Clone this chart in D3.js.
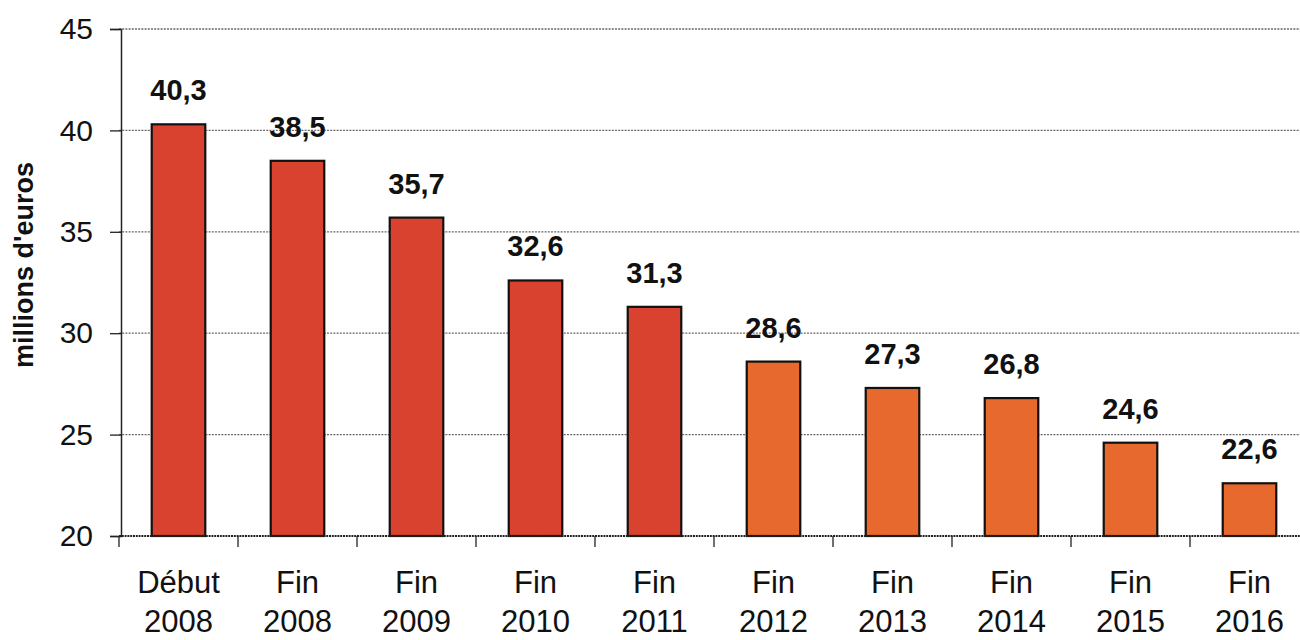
<!DOCTYPE html>
<html>
<head>
<meta charset="utf-8">
<script src="https://cdn.jsdelivr.net/npm/d3@7"></script>
<style>
  html, body { margin: 0; padding: 0; background: #fff; }
  svg { display: block; font-family: "Liberation Sans", Arial, sans-serif; }
</style>
</head>
<body>
<svg id="chart" width="1300" height="640"></svg>
<script>
// Période (deux lignes : libellé et année)
const periodLabels = ["Début", "Fin", "Fin", "Fin", "Fin", "Fin", "Fin", "Fin", "Fin", "Fin"];
const years = ["2008", "2008", "2009", "2010", "2011", "2012", "2013", "2014", "2015", "2016"];
// Montants en millions d'euros
const values = [40.3, 38.5, 35.7, 32.6, 31.3, 28.6, 27.3, 26.8, 24.6, 22.6];
// Réalisé (rouge) puis prévision (orange)
const kinds = ["r", "r", "r", "r", "r", "p", "p", "p", "p", "p"];
const yTicks = [20, 25, 30, 35, 40, 45];

const svg = d3.select("#chart");
const plotLeft = 119, plotRight = 1309, plotTop = 29, plotBottom = 536;

const x = d3.scaleBand()
  .domain(d3.range(values.length))
  .range([plotLeft, plotRight])
  .paddingInner(0.55)
  .paddingOuter(0.275);

const y = d3.scaleLinear().domain([20, 45]).range([plotBottom, plotTop]);

const fill = { r: "#d9422e", p: "#e8692d" };

// Quadrillage horizontal pointillé
svg.append("g")
  .selectAll("line")
  .data(yTicks.slice(1))
  .join("line")
  .attr("x1", plotLeft).attr("x2", 1300)
  .attr("y1", d => y(d)).attr("y2", d => y(d))
  .attr("stroke", "#6a6a6a")
  .attr("stroke-width", 1.3)
  .attr("stroke-dasharray", "2,1.2");

// Axe des ordonnées
const yAxis = d3.axisLeft(y).tickValues(yTicks).tickSize(11).tickPadding(17)
  .tickFormat(d3.format("d"));
const gy = svg.append("g").attr("transform", `translate(${plotLeft + 2},0)`).call(yAxis);
gy.select(".domain").attr("stroke", "#222").attr("stroke-width", 1.5);
gy.selectAll(".tick line").attr("stroke", "#222").attr("stroke-width", 1.3);
gy.selectAll(".tick text")
  .attr("font-size", 30).attr("fill", "#111")
  .attr("font-family", "'Liberation Sans', Arial, sans-serif");

// Barres
svg.append("g")
  .selectAll("rect")
  .data(values)
  .join("rect")
  .attr("x", (d, i) => x(i))
  .attr("width", x.bandwidth())
  .attr("y", d => y(d))
  .attr("height", d => y(20) - y(d))
  .attr("fill", (d, i) => fill[kinds[i]])
  .attr("stroke", "#111")
  .attr("stroke-width", 2.2);

// Axe des abscisses
const step = x.step();
const xTickPos = d3.range(values.length + 1).map(i => plotLeft + i * step);
svg.append("line")
  .attr("x1", plotLeft).attr("x2", 1300)
  .attr("y1", plotBottom).attr("y2", plotBottom)
  .attr("stroke", "#222").attr("stroke-width", 1.8)
  .attr("stroke-dasharray", "2,0.8");
svg.append("g")
  .selectAll("line")
  .data(xTickPos)
  .join("line")
  .attr("x1", d => d).attr("x2", d => d)
  .attr("y1", plotBottom).attr("y2", plotBottom + 11)
  .attr("stroke", "#222").attr("stroke-width", 1.3);

// Libellés des catégories
const xl = svg.append("g")
  .selectAll("text")
  .data(values)
  .join("text")
  .attr("text-anchor", "middle")
  .attr("font-size", 31)
  .attr("fill", "#111");
xl.append("tspan")
  .attr("x", (d, i) => x(i) + x.bandwidth() / 2)
  .attr("y", 593)
  .text((d, i) => periodLabels[i]);
xl.append("tspan")
  .attr("x", (d, i) => x(i) + x.bandwidth() / 2)
  .attr("y", 632)
  .text((d, i) => years[i]);

// Valeurs au-dessus des barres
const fmt = v => v.toFixed(1).replace(".", ",");
svg.append("g")
  .selectAll("text")
  .data(values)
  .join("text")
  .attr("x", (d, i) => x(i) + x.bandwidth() / 2)
  .attr("y", d => y(d) - 24)
  .attr("text-anchor", "middle")
  .attr("font-size", 29)
  .attr("font-weight", "bold")
  .attr("fill", "#111")
  .text(d => fmt(d));

// Titre de l'axe vertical
svg.append("text")
  .attr("transform", "translate(33,265) rotate(-90)")
  .attr("text-anchor", "middle")
  .attr("font-size", 27)
  .attr("font-weight", "bold")
  .attr("fill", "#111")
  .text("millions d'euros");
</script>
</body>
</html>
